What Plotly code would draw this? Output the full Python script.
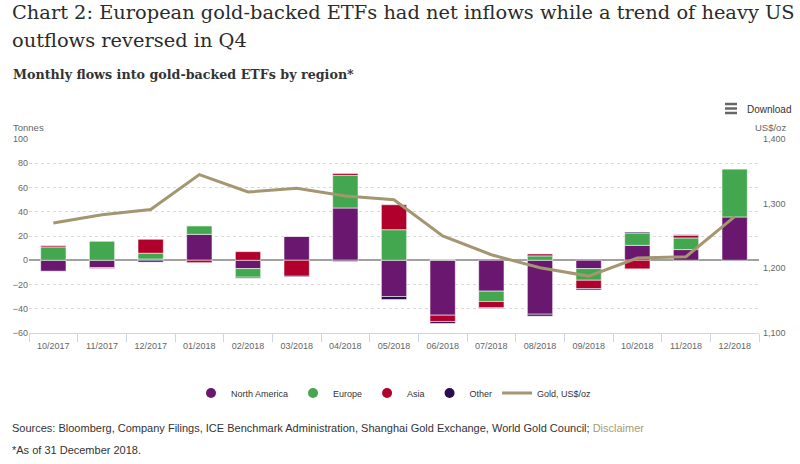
import plotly.graph_objects as go

months = ["10/2017", "11/2017", "12/2017", "01/2018", "02/2018", "03/2018", "04/2018",
          "05/2018", "06/2018", "07/2018", "08/2018", "09/2018", "10/2018", "11/2018", "12/2018"]
north_america = [-9.0, -6.0, 1.0, 21.4, -6.9, 19.8, 43.1, -29.9, -45.3, -25.5, -44.5, -6.9, 12.3, 8.8, 35.7]
europe = [11.0, 15.9, 4.8, 7.1, -7.1, 0.0, 26.9, 25.2, 0.5, -8.5, 3.6, -9.6, 10.2, 9.6, 39.8]
asia = [1.4, -0.8, 11.5, -2.0, 7.1, -13.2, 1.6, 20.6, -5.2, -5.2, 1.6, -6.9, -7.1, 2.2, 0.0]
other = [0.0, 0.0, -1.5, 0.0, -0.8, -0.6, -1.0, -2.5, -1.6, -0.5, -1.6, -1.1, 0.8, 0.5, 0.0]
gold = [1270, 1283, 1291, 1345, 1318, 1324, 1312, 1306, 1250, 1221, 1201, 1188, 1216, 1218, 1280]

series = [("North America", north_america, "#69176f"),
          ("Europe", europe, "#43a74f"),
          ("Asia", asia, "#b1002c"),
          ("Other", other, "#2c0b50")]
GOLD_COLOR = "#a39670"

W, H = 800, 464
L, R, T, B = 29, 41, 139, 131
PW, PH = W - L - R, H - T - B


def px(x):
    return (x - L) / PW


def py(y):
    return (H - B - y) / PH


fig = go.Figure()
for name, vals, col in series:
    fig.add_trace(go.Bar(x=months, y=vals, name=name, marker_color=col,
                         marker_line=dict(color="rgba(255,255,255,0.55)", width=1),
                         showlegend=False))
for name, vals, col in series:
    fig.add_trace(go.Scatter(x=[None], y=[None], mode="markers", name=name,
                             marker=dict(symbol="circle", size=10, color=col)))
fig.add_trace(go.Scatter(x=months, y=gold, yaxis="y2", mode="lines", name="Gold, US$/oz",
                         line=dict(color=GOLD_COLOR, width=3)))

tick_font = dict(family="Liberation Sans, Arial, sans-serif", size=9, color="#666666")

fig.update_layout(
    width=W, height=H,
    margin=dict(l=L, r=R, t=T, b=B, pad=0),
    paper_bgcolor="white", plot_bgcolor="white",
    barmode="relative", bargap=0.48,
    font=dict(family="Liberation Sans, Arial, sans-serif", color="#333333"),
    xaxis=dict(type="category", showgrid=False, showline=True, linecolor="#ccd6eb", linewidth=1,
               ticks="outside", tickson="boundaries", ticklen=8, tickcolor="#ccd6eb",
               ticklabelstandoff=4, tickfont=tick_font, zeroline=False),
    yaxis=dict(range=[-60, 100], dtick=20, showgrid=True, gridcolor="#d9d9d9", griddash="dot",
               gridwidth=1, zeroline=True, zerolinecolor="#a0a0a0", zerolinewidth=1.5,
               showline=False, tickfont=tick_font, ticks=""),
    yaxis2=dict(range=[1100, 1400], dtick=100, overlaying="y", side="right", showgrid=False,
                zeroline=False, showline=False, tickformat=",d", tickfont=tick_font, ticks="",
                ticklabelstandoff=3),
    legend=dict(orientation="h", x=0.5, xanchor="center", y=py(393), yanchor="middle",
                font=dict(size=9, color="#333333"), itemwidth=30, traceorder="normal",
                bgcolor="rgba(0,0,0,0)"),
)

ann = []
serif = "DejaVu Serif, serif"
ann.append(dict(text="Chart 2: European gold-backed ETFs had net inflows while a trend of heavy US",
                x=px(10), y=py(12), font=dict(family=serif, size=19.4, color="#2b2b2b")))
ann.append(dict(text="outflows reversed in Q4",
                x=px(10), y=py(40), font=dict(family=serif, size=19.4, color="#2b2b2b")))
ann.append(dict(text="<b>Monthly flows into gold-backed ETFs by region*</b>",
                x=px(11), y=py(74), font=dict(family=serif, size=12.7, color="#333333")))
ann.append(dict(text="Tonnes", x=px(11), y=py(127), font=dict(size=9.5, color="#666666")))
ann.append(dict(text="US$/oz", x=px(788), y=py(127), xanchor="right",
                font=dict(size=9.5, color="#666666")))
ann.append(dict(text="Download", x=px(745), y=py(109), font=dict(size=10, color="#333333")))
ann.append(dict(text="Sources: Bloomberg, Company Filings, ICE Benchmark Administration, Shanghai Gold Exchange, "
                     "World Gold Council; <span style='color:#a89a6e'>Disclaimer</span>",
                x=px(10), y=py(428), font=dict(size=11, color="#333333")))
ann.append(dict(text="*As of 31 December 2018.", x=px(10), y=py(450),
                font=dict(size=11, color="#333333")))
for a in ann:
    a.setdefault("xanchor", "left")
    a.update(xref="paper", yref="paper", yanchor="middle", showarrow=False)
fig.update_layout(annotations=ann)

shapes = []
for yy in (104, 108.5, 113):
    shapes.append(dict(type="line", xref="paper", yref="paper", x0=px(725), x1=px(737),
                       y0=py(yy), y1=py(yy), line=dict(color="#666666", width=2.5)))
fig.update_layout(shapes=shapes)

fig.write_html("out.html")
